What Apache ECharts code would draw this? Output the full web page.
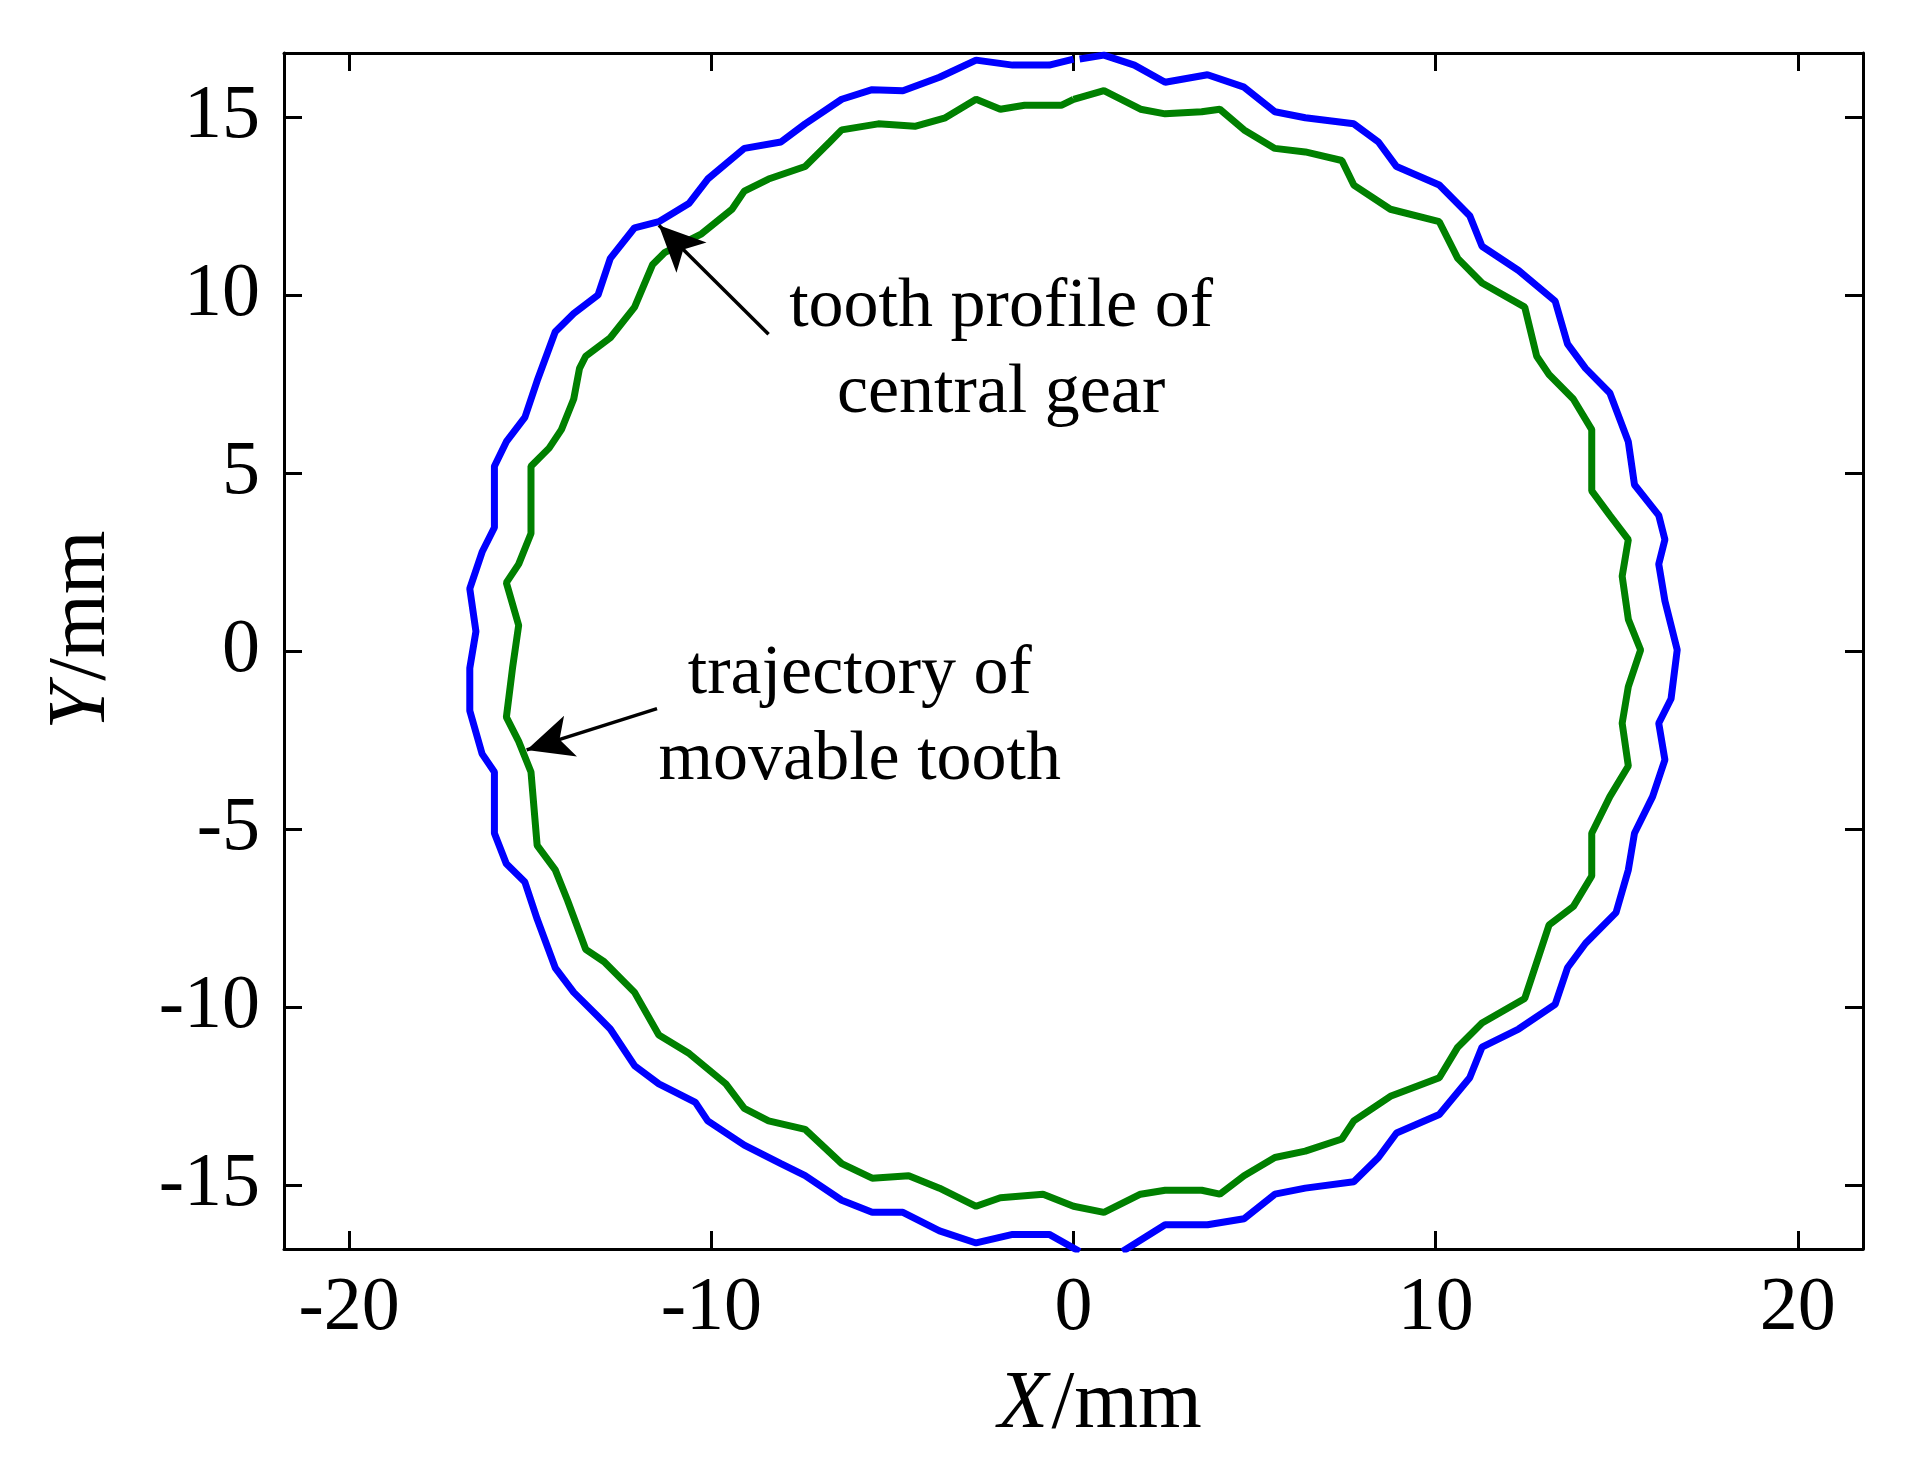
<!DOCTYPE html>
<html><head><meta charset="utf-8">
<script src="https://cdn.jsdelivr.net/npm/echarts@6/dist/echarts.min.js"></script>
<style>html,body{margin:0;padding:0;background:#fff}#c{width:1909px;height:1479px}</style>
</head><body><div id="c"></div>
<script>
var bluePx = [[885,47],[905,44],[930,52],[955,66],[990,60],[1020,70],[1045,90],[1070,95],[1110,100],[1130,115],[1145,135],[1180,150],[1205,175],[1215,200],[1245,220],[1275,245],[1285,280],[1300,300],[1320,320],[1335,360],[1340,395],[1360,420],[1365,440],[1360,460],[1365,490],[1375,530],[1370,570],[1360,590],[1365,620],[1355,650],[1340,680],[1335,710],[1325,745],[1300,770],[1285,790],[1275,820],[1245,840],[1215,855],[1205,880],[1180,910],[1145,925],[1130,945],[1110,965],[1070,970],[1045,975],[1020,995],[990,1000],[955,1000],[920,1022]];
var blueLeftPx = [[885,1022],[860,1008],[830,1008],[800,1015],[770,1005],[740,990],[715,990],[690,980],[660,960],[640,950],[610,935],[580,915],[570,900],[540,885],[520,870],[500,840],[490,830],[470,810],[455,790],[440,750],[430,720],[415,705],[405,680],[405,630],[395,615],[385,580],[385,545],[390,515],[385,480],[395,450],[405,430],[405,380],[415,360],[430,340],[440,310],[455,270],[470,255],[490,240],[500,210],[520,185],[540,180],[565,165],[580,145],[610,120],[640,115],[660,100],[690,80],[715,72],[740,73],[770,62],[800,48],[830,52],[860,52],[880,47]];
var greenPx = [[880,80],[905,73],[935,88],[955,92],[985,90],[1000,88],[1020,105],[1045,120],[1070,123],[1100,130],[1110,150],[1140,170],[1180,180],[1195,210],[1215,230],[1250,250],[1260,290],[1270,305],[1290,325],[1305,350],[1305,400],[1320,420],[1335,440],[1330,470],[1335,505],[1345,530],[1335,560],[1330,590],[1335,625],[1320,650],[1305,680],[1305,715],[1290,740],[1270,755],[1255,800],[1250,815],[1215,835],[1195,855],[1180,880],[1140,895],[1110,915],[1100,930],[1070,940],[1045,945],[1020,960],[1000,975],[985,972],[955,972],[935,975],[905,990],[880,985],[855,975],[820,978],[800,985],[770,970],[745,960],[715,962],[690,950],[660,922],[630,915],[610,905],[595,885],[565,860],[540,845],[520,810],[495,785],[480,775],[465,735],[455,710],[440,690],[435,630],[425,605],[415,585],[420,545],[425,510],[415,475],[425,460],[435,435],[435,380],[450,365],[460,350],[470,325],[475,300],[480,290],[500,275],[520,250],[535,215],[545,205],[575,190],[600,170],[610,155],[630,145],[660,135],[680,115],[690,105],[720,100],[750,102],[775,95],[800,80],[820,88],[840,85],[870,85],[880,80]];
function toData(p){return [+((p[0]-880)/29.7).toFixed(2), +((531-p[1])/29.1).toFixed(2)];}
var blueRight = bluePx.map(toData);
var blueLeft = blueLeftPx.map(toData);
var green = greenPx.map(toData);
var xTicks = [-20,-10,0,10,20];
var yTicks = [-15,-10,-5,0,5,10,15];
var notes = [
  {text:'tooth profile of\ncentral gear', at:[-2.0,8.45], from:[-8.42,8.9], to:[-11.45,11.96]},
  {text:'trajectory of\nmovable tooth', at:[-5.9,-1.86], from:[-11.5,-1.62], to:[-15.1,-2.78]}
];
var chart = echarts.init(document.getElementById('c'));
var font = 'Liberation Serif';
function ax(min,max,ticks,isX){
  return {type:'value',min:min,max:max,
    axisLine:{show:true,onZero:false,lineStyle:{color:'#000',width:3}},
    axisTick:{show:true,inside:true,length:18,customValues:ticks,lineStyle:{color:'#000',width:3}},
    axisLabel:{show:true,customValues:ticks,fontFamily:font,fontSize:76,color:'#000',margin:isX?22:24},
    splitLine:{show:false}};
}
function mirror(a){var b=JSON.parse(JSON.stringify(a));b.axisLabel.show=false;return b;}
var xa = ax(-21.8,21.8,xTicks,true), ya = ax(-16.8,16.8,yTicks,false);
var mx = mirror(xa), my = mirror(ya);
mx.position='top'; my.position='right';
var option = {
  animation:false,
  grid:{left:284,right:46,top:53,bottom:230},
  xAxis:[xa,mx], yAxis:[ya,my],
  series:[
    {type:'line',data:blueRight,symbol:'none',lineStyle:{color:'#0000ff',width:7},clip:true},
    {type:'line',data:blueLeft,symbol:'none',lineStyle:{color:'#0000ff',width:7},clip:true},
    {type:'line',data:green,symbol:'none',lineStyle:{color:'#008000',width:7},clip:true,
      markLine:{silent:true,symbol:['none','arrow'],symbolSize:[32,46],label:{show:false},
        lineStyle:{color:'#000',width:3.5,type:'solid'},
        data:notes.map(function(n){return [{coord:n.from},{coord:n.to}];})}}
  ]
};
chart.setOption(option);
var g = notes.map(function(n){
  var p = chart.convertToPixel({gridIndex:0},n.at);
  return {type:'text',x:p[0],y:p[1],style:{text:n.text,font:'70px "Liberation Serif"',fill:'#000',align:'center',verticalAlign:'middle',lineHeight:86}};
});
g.push({type:'text',x:1100,y:1405,style:{rich:{i:{fontStyle:'italic',fontSize:82,fontFamily:font},n:{fontSize:82,fontFamily:font}},text:'{i|X} {n|/mm}',fill:'#000',align:'center',verticalAlign:'middle'}});
g.push({type:'text',x:82,y:630,rotation:Math.PI/2,style:{rich:{i:{fontStyle:'italic',fontSize:82,fontFamily:font},n:{fontSize:82,fontFamily:font}},text:'{i|Y} {n|/mm}',fill:'#000',align:'center',verticalAlign:'middle'}});
chart.setOption({graphic:g});
</script></body></html>
